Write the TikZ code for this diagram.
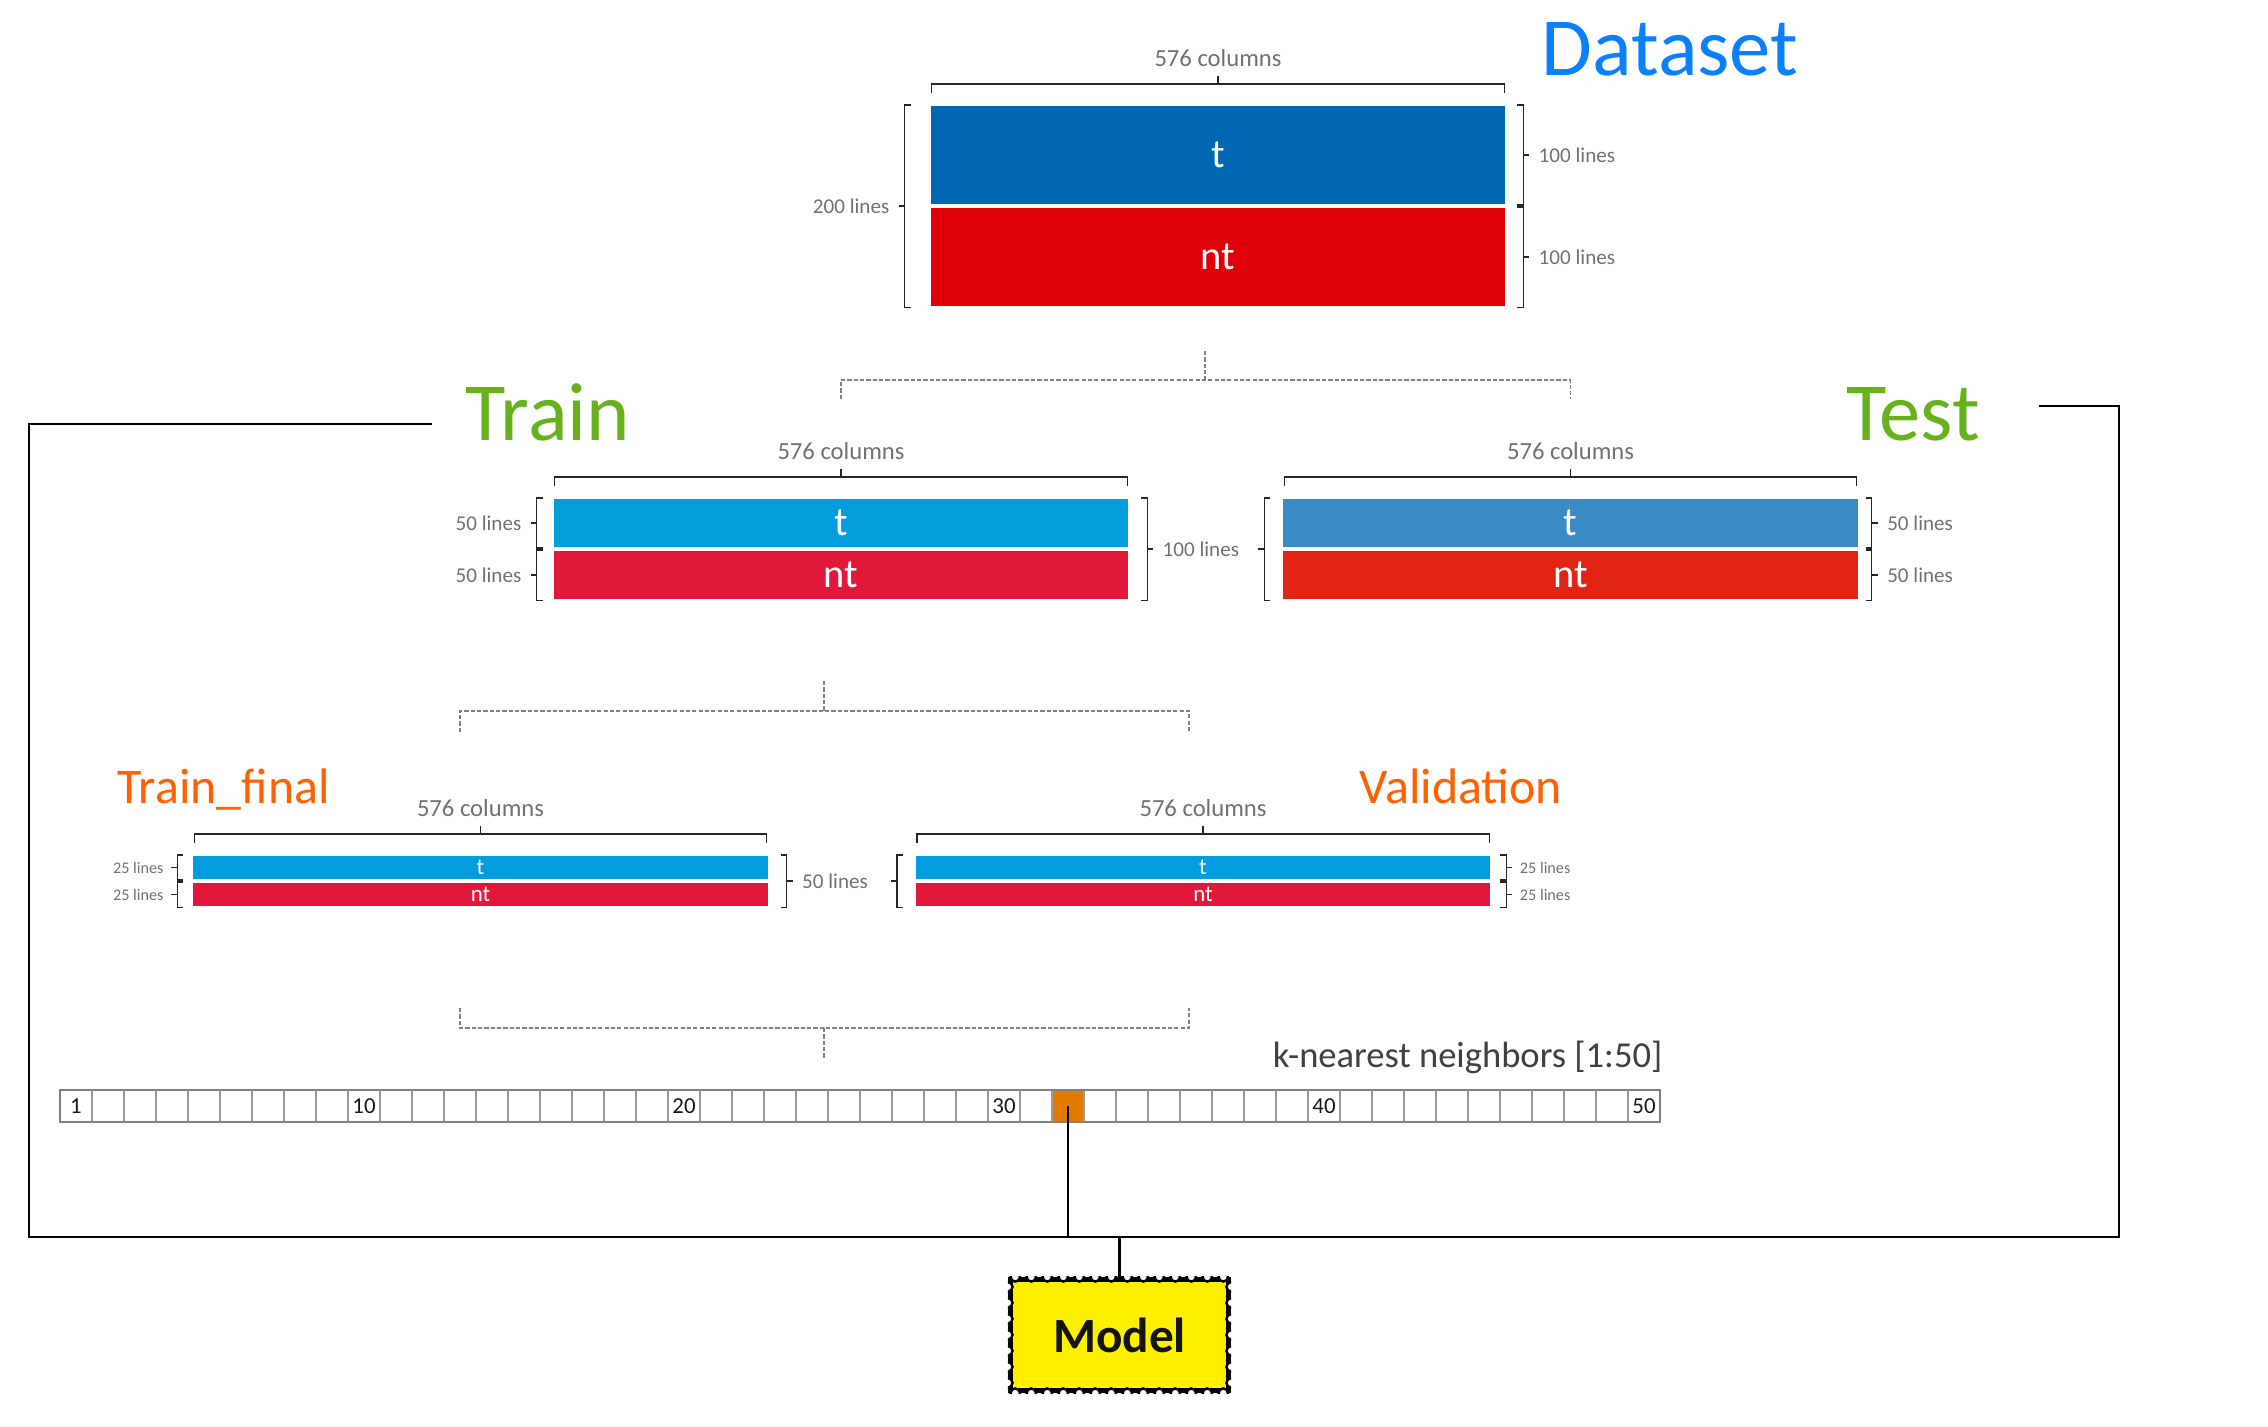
\documentclass[tikz,border=0pt]{standalone}
\usepackage{fontspec}
\setmainfont{Carlito}
\usepackage{xcolor}
\usepackage{tikz}
\usetikzlibrary{arrows.meta, positioning, calc}

\definecolor{dsblue}{HTML}{0068B3}
\definecolor{dsred}{HTML}{E00008}
\definecolor{trblue}{HTML}{039DDD}
\definecolor{trred}{HTML}{E0193A}
\definecolor{teblue}{HTML}{3A8AC4}
\definecolor{tered}{HTML}{E22414}
\definecolor{dshead}{HTML}{0A80FF}
\definecolor{trhead}{HTML}{65B21B}
\definecolor{tfhead}{HTML}{FF6000}
\definecolor{labgray}{HTML}{707070}
\definecolor{dashgray}{HTML}{808080}
\definecolor{cellgray}{HTML}{9A9A9A}
\definecolor{pick}{HTML}{E07B00}
\definecolor{stampyellow}{HTML}{FFF000}

\tikzset{
  >=Stealth,
  blk/.style      = {draw=white, line width=0.6pt, minimum width=5.76cm,
                     inner sep=0pt, text=white},
  dsT/.style      = {blk, fill=dsblue, minimum height=1cm,
                     font=\fontsize{11.5}{12}\selectfont},
  dsNT/.style     = {dsT, fill=dsred},
  trT/.style      = {blk, fill=trblue, minimum height=0.5cm,
                     font=\fontsize{11.5}{12}\selectfont},
  trNT/.style     = {trT, fill=trred},
  teT/.style      = {trT, fill=teblue},
  teNT/.style     = {trT, fill=tered},
  tfT/.style      = {blk, fill=trblue, minimum height=0.25cm,
                     font=\fontsize{6.5}{7}\selectfont},
  tfNT/.style     = {tfT, fill=trred},
  bighead/.style  = {anchor=base west, inner sep=0pt,
                     font=\fontsize{23.5}{27}\selectfont},
  midhead/.style  = {anchor=base west, inner sep=0pt, text=tfhead,
                     font=\fontsize{14.2}{16}\selectfont},
  collab/.style   = {font=\fontsize{7}{8}\selectfont, text=labgray, inner sep=2.5pt},
  linelab/.style  = {font=\fontsize{6}{7}\selectfont, text=labgray, inner sep=2.5pt},
  smalllab/.style = {font=\fontsize{4.6}{5}\selectfont, text=labgray, inner sep=2pt},
  brk/.style      = {draw=black!85, line width=0.4pt},
  splitline/.style= {draw=dashgray, line width=0.45pt,
                     dash pattern=on 1.2pt off 0.6pt},
  kcell/.style    = {draw=cellgray, line width=0.3pt, minimum size=0.32cm,
                     inner sep=0pt, outer sep=0pt},
  knum/.style     = {font=\fontsize{6.5}{7}\selectfont, text=black!90},
  rowline/.style  = {draw=black!50, line width=0.5pt},
  outline/.style  = {draw=black, line width=0.55pt},
  pickline/.style = {draw=black, line width=0.45pt},
  stem/.style     = {draw=black, line width=1.1pt},
  stamp/.style    = {draw=black, line width=1.5pt, fill=stampyellow,
                     minimum width=2.18cm, minimum height=1.11cm,
                     font=\bfseries\fontsize{14}{16}\selectfont, text=black!92},
  notch/.style    = {fill=white, draw=black, line width=0.7pt},
}

% bracket left of a block pair: [label style]{top}{bottom}{gap}{name}{text}
\newcommand{\leftbrk}[6][linelab]{%
  \draw[brk] ($(#2.north west)+(-#4+6,1)$) -- ++(-6,0)
    -- ($(#3.south west)+(-#4,-1)$) -- ++(6,0);
  \if\relax\detokenize{#6}\relax
    \draw[brk] ($(#2.north west)!0.5!(#3.south west)+(-#4,0)$) -- ++(-6,0);
  \else
    \draw[brk] ($(#2.north west)!0.5!(#3.south west)+(-#4,0)$) -- ++(-6,0)
      node[#1, left] (#5) {#6};
  \fi}
% bracket right of a block pair
\newcommand{\rightbrk}[6][linelab]{%
  \draw[brk] ($(#2.north east)+(#4-6,1)$) -- ++(6,0)
    -- ($(#3.south east)+(#4,-1)$) -- ++(-6,0);
  \draw[brk] ($(#2.north east)!0.5!(#3.south east)+(#4,0)$) -- ++(6,0)
    node[#1, right] (#5) {#6};}
% bracket over a block: {block}{name}{text}
\newcommand{\topbrk}[3]{%
  \draw[brk] ($(#1.north west)+(3,-11)$) -- ++(0,-9)
    -- ($(#1.north east)+(-3,-20)$) -- ++(0,9);
  \draw[brk] ($(#1.north)+(0,-20)$) -- ++(0,-8)
    node[collab, above] (#2) {#3};}

\begin{document}
\begin{tikzpicture}[x=0.01cm, y=-0.01cm,
  every node/.style = {inner sep=0pt}]
  \useasboundingbox (0,0) rectangle (2268,1426);

  % Dataset
  \node[dsT]                   (dt)  at (1218,155) {t};
  \node[dsNT, below=0pt of dt] (dnt) {nt};
  \node[bighead, text=dshead]  (dsname) at (1541,75) {Dataset};
  \topbrk{dt}{dcols}{576 columns}
  \leftbrk{dt}{dnt}{24}{dlines}{200 lines}
  \rightbrk{dt}{dt}{16}{dtlines}{100 lines}
  \rightbrk{dnt}{dnt}{16}{dntlines}{100 lines}

  % Train / Test
  \node[trT]                    (trt)  at (841,523) {t};
  \node[trNT, below=0pt of trt] (trnt) {nt};
  \node[teT, right=1.51cm of trt] (tet) {t};
  \node[teNT, below=0pt of tet] (tent) {nt};
  \node[bighead, text=trhead]   (trname) at (465,440) {Train};
  \node[bighead, text=trhead]   (tename) at (1846,440) {Test};
  \topbrk{trt}{trcols}{576 columns}
  \topbrk{tet}{tecols}{576 columns}
  \leftbrk{trt}{trt}{15}{trtlines}{50 lines}
  \leftbrk{trnt}{trnt}{15}{trntlines}{50 lines}
  \rightbrk{trt}{trnt}{17}{trlines}{100 lines}
  \leftbrk{tet}{tent}{17}{telines}{}
  \rightbrk{tet}{tet}{12}{tetlines}{50 lines}
  \rightbrk{tent}{tent}{12}{tentlines}{50 lines}

  % Train_final / Validation
  \node[tfT]                    (tft)  at (480.5,867.5) {t};
  \node[tfNT, below=0pt of tft] (tfnt) {nt};
  \node[tfT, right=1.44cm of tft] (vat) {t};
  \node[tfNT, below=0pt of vat] (vant) {nt};
  \node[midhead] (tfname) at (117,803) {Train\_final};
  \node[midhead] (vaname) at (1359,803) {Validation};
  \topbrk{tft}{tfcols}{576 columns}
  \topbrk{vat}{vacols}{576 columns}
  \leftbrk[smalllab]{tft}{tft}{14}{tftlines}{25 lines}
  \leftbrk[smalllab]{tfnt}{tfnt}{14}{tfntlines}{25 lines}
  \rightbrk{tft}{tfnt}{17}{tflines}{50 lines}
  \leftbrk{vat}{vant}{17}{valines}{}
  \rightbrk[smalllab]{vat}{vat}{14}{vatlines}{25 lines}
  \rightbrk[smalllab]{vant}{vant}{14}{vantlines}{25 lines}

  % Splits
  \coordinate (split1) at (1205,351);
  \draw[splitline] (split1) -- ++(0,29) coordinate (split1m);
  \draw[splitline] ($(trt.north)+(0,-98)$) |- (split1m) -| ($(tet.north)+(0,-98)$);
  \coordinate (split2) at (824,681);
  \coordinate (tfTop)  at (460,732);
  \coordinate (vaTop)  at (1189,732);
  \draw[splitline] (split2) -- ++(0,30) coordinate (split2m);
  \draw[splitline] (tfTop) |- (split2m) -| (vaTop);
  \coordinate (tfBot)  at (460,1008);
  \coordinate (vaBot)  at (1189,1008);
  \coordinate (knnTop) at (824,1058);
  \draw[splitline] (tfBot) |- ($(knnTop)+(0,-30)$) -| (vaBot);
  \draw[splitline] ($(knnTop)+(0,-30)$) -- (knnTop);

  % k-nearest neighbors row
  \node[anchor=base east, font=\fontsize{10.4}{12}\selectfont, text=black!75]
    (knnname) at (1663,1067) {k-nearest neighbors [1:50]};
  \foreach \i in {1,...,50}{
    \ifnum\i=32 \def\cellfill{pick}\else\def\cellfill{white}\fi
    \node[kcell, fill=\cellfill] (k\i) at ({44+32*\i},1106) {};
  }
  \foreach \i in {1,10,20,30,40,50}
    \node[knum] (n\i) at (k\i) {\i};
  \draw[rowline] (k1.north west) rectangle (k50.south east);

  % Frame
  \coordinate (trEnd) at (432,424);
  \coordinate (teEnd) at (2039,406);
  \coordinate (frBL)  at (29,1237);
  \coordinate (frTR)  at (2119,406);
  \draw[outline] (trEnd) -| (frBL) -| (frTR) -- (teEnd);

  % Model
  \node[stamp] (model) at (1119.5,1335) {Model};
  \begin{scope}
    \clip (model.north west) rectangle (model.south east);
    \foreach \i in {0,...,13}{
      \draw[notch] ($(model.north west)+(7.5+16*\i,0)$) circle[radius=1.35pt];
      \draw[notch] ($(model.south west)+(7.5+16*\i,0)$) circle[radius=1.35pt];
    }
    \foreach \j in {0,...,6}{
      \draw[notch] ($(model.north west)+(0,10+16*\j)$) circle[radius=1.35pt];
      \draw[notch] ($(model.north east)+(0,10+16*\j)$) circle[radius=1.35pt];
    }
  \end{scope}
  \draw[pickline] (k32.center) -- (k32.center |- frBL);
  \draw[stem] (model.north) -- (model.north |- frBL);
\end{tikzpicture}
\end{document}
